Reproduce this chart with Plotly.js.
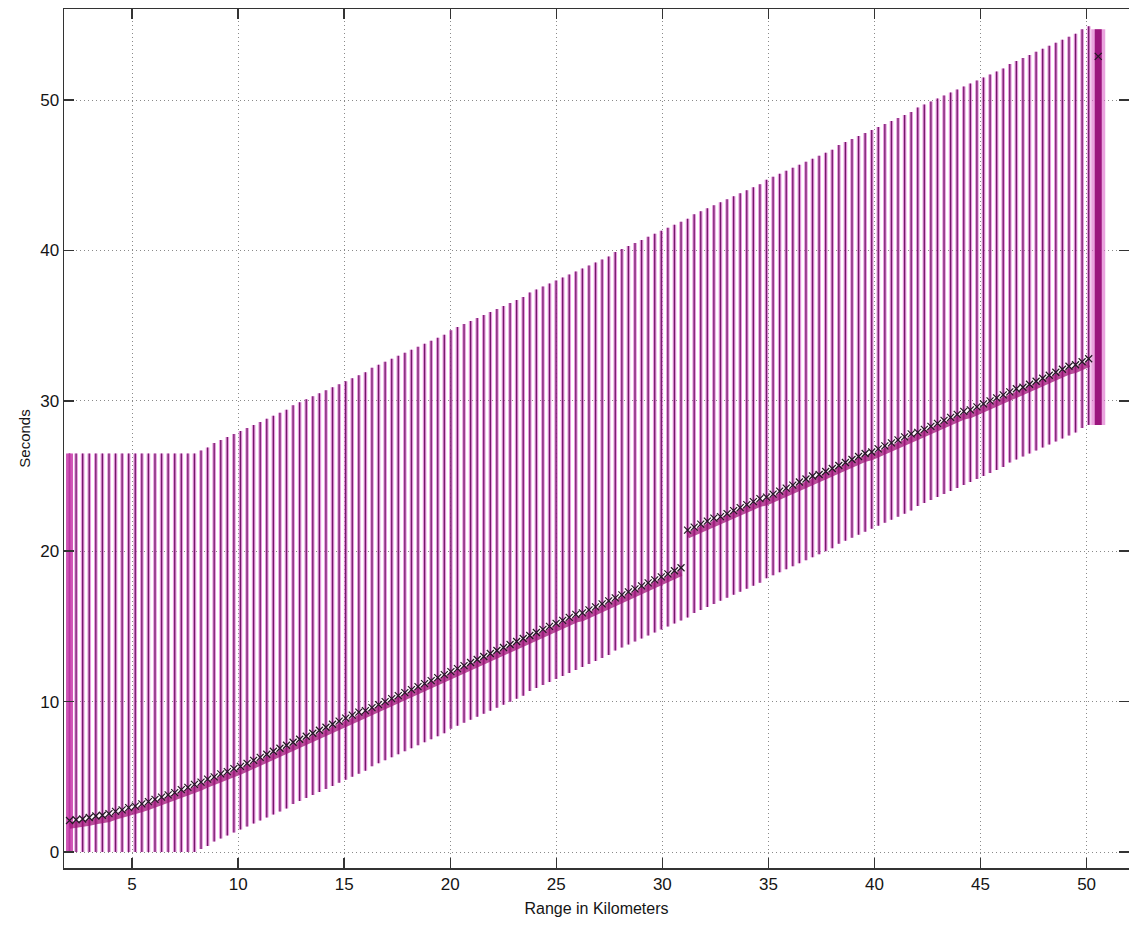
<!DOCTYPE html>
<html>
<head>
<meta charset="utf-8">
<script src="https://cdn.plot.ly/plotly-3.0.1.min.js"></script>
<style>html,body{margin:0;padding:0;background:#fff;overflow:hidden}#chart{width:1129px;height:926px}</style>
</head>
<body>
<div id="chart"></div>
<script>
// Trace ranges (km)
const traceRange = [
2.05,2.36,2.67,2.98,3.29,3.60,3.91,4.22,4.53,4.84,
5.15,5.46,5.77,6.08,6.39,6.70,7.01,7.32,7.63,7.94,
8.25,8.56,8.87,9.18,9.49,9.80,10.11,10.42,10.73,11.04,
11.35,11.66,11.97,12.28,12.59,12.90,13.21,13.52,13.83,14.14,
14.45,14.76,15.07,15.38,15.69,16.00,16.31,16.62,16.93,17.24,
17.55,17.86,18.17,18.48,18.79,19.10,19.41,19.72,20.03,20.34,
20.65,20.96,21.27,21.58,21.89,22.20,22.51,22.82,23.13,23.44,
23.75,24.06,24.37,24.68,24.99,25.30,25.61,25.92,26.23,26.54,
26.85,27.16,27.47,27.78,28.09,28.40,28.71,29.02,29.33,29.64,
29.95,30.26,30.57,30.88,31.19,31.50,31.81,32.12,32.43,32.74,
33.05,33.36,33.67,33.98,34.29,34.60,34.91,35.22,35.53,35.84,
36.15,36.46,36.77,37.08,37.39,37.70,38.01,38.32,38.63,38.94,
39.25,39.56,39.87,40.18,40.49,40.80,41.11,41.42,41.73,42.04,
42.35,42.66,42.97,43.28,43.59,43.90,44.21,44.52,44.83,45.14,
45.45,45.76,46.07,46.38,46.69,47.00,47.31,47.62,47.93,48.24,
48.55,48.86,49.17,49.48,49.79,50.10
];
// Start of each trace's recording window (s)
const windowStart = [
0,0,0,0,0,0,0,0,0,0,
0,0,0,0,0,0,0,0,0,0,
0.2,0.4,0.7,0.9,1.1,1.3,1.5,1.7,1.9,2.1,
2.3,2.5,2.7,2.9,3.2,3.4,3.6,3.8,4.0,4.2,
4.4,4.6,4.8,5.0,5.2,5.4,5.7,5.9,6.1,6.3,
6.5,6.7,6.9,7.1,7.3,7.5,7.7,7.9,8.2,8.4,
8.6,8.8,9.0,9.2,9.4,9.6,9.8,10.0,10.2,10.4,
10.7,10.9,11.1,11.3,11.5,11.7,11.9,12.1,12.3,12.5,
12.7,12.9,13.1,13.4,13.6,13.8,14.0,14.2,14.4,14.6,
14.8,15.0,15.2,15.4,15.6,15.9,16.1,16.3,16.5,16.7,
16.9,17.1,17.3,17.5,17.7,17.9,18.2,18.4,18.6,18.8,
19.0,19.2,19.4,19.6,19.8,20.0,20.2,20.5,20.7,20.9,
21.1,21.3,21.5,21.7,21.9,22.1,22.3,22.5,22.7,23.0,
23.2,23.4,23.6,23.8,24.0,24.2,24.4,24.6,24.8,25.0,
25.2,25.4,25.6,25.9,26.1,26.3,26.5,26.7,26.9,27.1,
27.3,27.5,27.7,27.9,28.2,28.4
];
const windowLength = 26.5;
// First-arrival picks (s), one per trace
const pickTime = [
2.1,2.15,2.2,2.3,2.4,2.45,2.55,2.7,2.8,2.95,
3.05,3.2,3.35,3.5,3.65,3.8,3.95,4.15,4.3,4.5,
4.65,4.85,5.0,5.2,5.35,5.55,5.7,5.9,6.1,6.3,
6.5,6.7,6.9,7.1,7.3,7.5,7.7,7.9,8.1,8.3,
8.5,8.7,8.9,9.1,9.3,9.4,9.6,9.8,10.0,10.2,
10.4,10.6,10.8,11.0,11.2,11.4,11.6,11.8,12.0,12.2,
12.4,12.6,12.8,13.0,13.2,13.4,13.6,13.8,14.0,14.2,
14.4,14.6,14.8,15.0,15.2,15.4,15.6,15.8,15.9,16.1,
16.3,16.5,16.7,16.9,17.1,17.3,17.5,17.7,17.9,18.1,
18.3,18.5,18.7,18.9,21.4,21.6,21.8,22.0,22.2,22.3,
22.5,22.7,22.9,23.1,23.3,23.5,23.6,23.8,24.0,24.2,
24.4,24.6,24.8,25.0,25.1,25.3,25.5,25.7,25.9,26.1,
26.3,26.5,26.6,26.8,27.0,27.2,27.4,27.6,27.8,27.9,
28.1,28.3,28.5,28.7,28.9,29.1,29.3,29.4,29.6,29.8,
30.0,30.2,30.4,30.6,30.8,30.9,31.1,31.3,31.5,31.7,
31.9,32.1,32.3,32.4,32.6,32.8
];
// Final (high-gain) trace at the far end
const finalTraceRange = [50.55];
const finalTraceStart = [28.4];
const finalPickTime = [52.9];
// Index where the pick branch jumps
const branchBreakIndex = 94;
const xTicks = [5,10,15,20,25,30,35,40,45,50];
const yTicks = [0,10,20,30,40,50];

// Build vertical trace segments
const segX = [], segY = [];
traceRange.forEach((r, i) => {
  segX.push(r, r, null);
  segY.push(windowStart[i], windowStart[i] + windowLength, null);
});

// arrival band along picks (two branches)
const bandX = [], bandY = [];
traceRange.forEach((r, i) => {
  if (i === branchBreakIndex) { bandX.push(null); bandY.push(null); }
  bandX.push(r); bandY.push(pickTime[i] - 0.35);
});

const finalTop = finalTraceStart[0] + windowLength - 0.2;

const data = [
  {x: segX, y: segY, mode: 'lines', type: 'scatter', hoverinfo: 'skip',
   line: {color: 'rgba(215,85,200,0.6)', width: 3.6}},
  {x: segX, y: segY, mode: 'lines', type: 'scatter', hoverinfo: 'skip',
   line: {color: 'rgb(115,25,105)', width: 1.3}},
  // first trace, shown heavier
  {x: [traceRange[0], traceRange[0]], y: [windowStart[0], windowStart[0] + windowLength],
   mode: 'lines', type: 'scatter', hoverinfo: 'skip',
   line: {color: 'rgba(200,60,170,0.85)', width: 7}},
  // final trace
  {x: [finalTraceRange[0], finalTraceRange[0]], y: [finalTraceStart[0], finalTop],
   mode: 'lines', type: 'scatter', hoverinfo: 'skip',
   line: {color: 'rgba(220,100,200,0.6)', width: 14}},
  {x: [finalTraceRange[0], finalTraceRange[0]], y: [finalTraceStart[0], finalTop],
   mode: 'lines', type: 'scatter', hoverinfo: 'skip',
   line: {color: 'rgb(155,20,125)', width: 7}},
  // arrival wavelet band
  {x: bandX, y: bandY, mode: 'lines', type: 'scatter', hoverinfo: 'skip',
   line: {color: 'rgba(160,20,120,0.75)', width: 6}},
  // picks
  {x: traceRange.concat(finalTraceRange), y: pickTime.concat(finalPickTime),
   mode: 'markers', type: 'scatter',
   marker: {symbol: 'x-thin', size: 7, line: {color: 'rgb(35,25,35)', width: 1.2}}}
];

const axisCommon = {
  showline: true, linecolor: '#333', linewidth: 1.5, mirror: 'ticks',
  ticks: 'inside', ticklen: 10, tickwidth: 1.5, tickcolor: '#333',
  showgrid: true, gridcolor: '#8a8a8a', gridwidth: 1, griddash: '1px,3px',
  zeroline: false,
  tickfont: {family: 'Liberation Sans, Arial, sans-serif', size: 17, color: '#151515'}
};

const layout = {
  width: 1129, height: 926,
  margin: {l: 64, r: 0, t: 9, b: 58},
  paper_bgcolor: '#fff', plot_bgcolor: '#fff',
  showlegend: false,
  xaxis: Object.assign({}, axisCommon, {
    range: [1.79, 52.0], tickmode: 'array', tickvals: xTicks,
    title: {text: 'Range in Kilometers', standoff: 10,
            font: {family: 'Liberation Sans, Arial, sans-serif', size: 16, color: '#151515'}}
  }),
  yaxis: Object.assign({}, axisCommon, {
    range: [-1.06, 56.05], tickmode: 'array', tickvals: yTicks,
    title: {text: 'Seconds', standoff: 6,
            font: {family: 'Liberation Sans, Arial, sans-serif', size: 15, color: '#151515'}}
  })
};

Plotly.newPlot('chart', data, layout, {displayModeBar: false, staticPlot: true});
</script>
</body>
</html>
